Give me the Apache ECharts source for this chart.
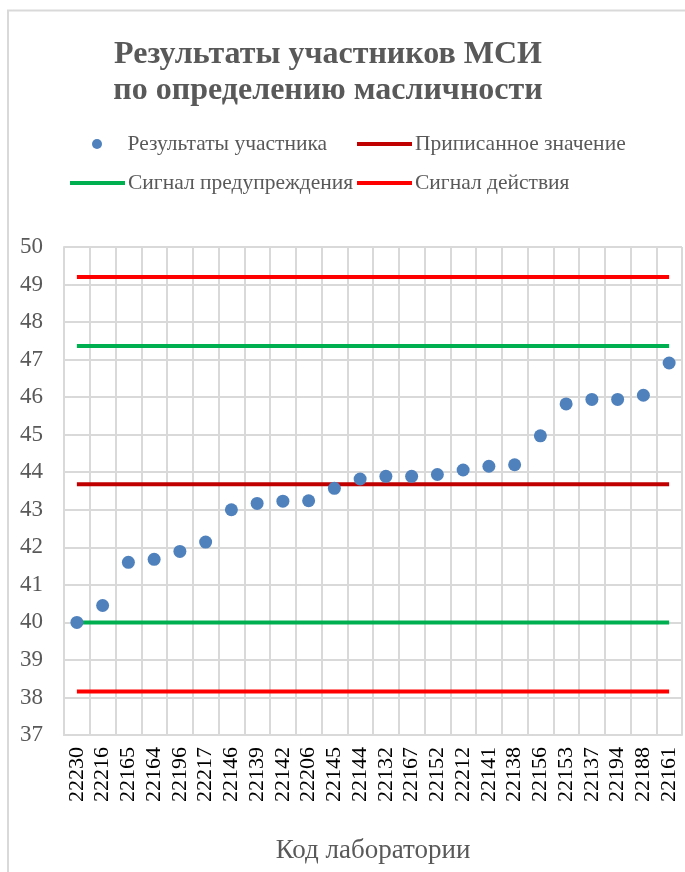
<!DOCTYPE html>
<html>
<head>
<meta charset="utf-8">
<script src="https://cdn.jsdelivr.net/npm/echarts@6/dist/echarts.min.js"></script>
<style>html,body{margin:0;padding:0;background:#fff}#c{width:685px;height:872px}</style>
</head>
<body>
<div id="c"></div>
<script>
const labs = ['22230','22216','22165','22164','22196','22217','22146','22139','22142','22206','22145','22144','22132','22167','22152','22212','22141','22138','22156','22153','22137','22194','22188','22161'];
const results = [40.0,40.45,41.6,41.68,41.89,42.14,43.0,43.17,43.23,43.24,43.57,43.82,43.89,43.89,43.94,44.06,44.16,44.2,44.97,45.82,45.94,45.94,46.05,46.91];
const assignedValue = 43.68;
const warningLow = 40.0;
const warningHigh = 47.36;
const actionLow = 38.16;
const actionHigh = 49.2;
const yTicks = {min: 37, max: 50, step: 1};

const FONT = 'Liberation Serif';
const GREY = '#595959';
const chart = echarts.init(document.getElementById('c'), null, {renderer: 'canvas'});
const flat = v => labs.map(() => v);
const lineSeries = (name, color, v) => ({
  name, type: 'line', data: flat(v), symbol: 'none', showSymbol: false,
  lineStyle: {color, width: 4}, itemStyle: {color}, z: 2, silent: true
});
const legendText = {fontFamily: FONT, fontSize: 21.5, color: GREY, lineHeight: 22, padding: [0,0,0,-2]};
const mkLegend = (left, top, name, icon, h) => ({
  left, top, data: [{name, icon}], itemWidth: 55, itemHeight: h, itemGap: 0, padding: 0,
  textStyle: legendText
});
chart.setOption({
  animation: false,
  title: {
    text: 'Результаты участников МСИ\nпо определению масличности',
    left: 323, top: 32, textAlign: 'center',
    textStyle: {fontFamily: FONT, fontWeight: 'bold', fontSize: 32, color: GREY, lineHeight: 36}
  },
  graphic: [{type: 'rect', shape: {x: 8, y: 10.5, width: 700, height: 900},
    style: {fill: 'none', stroke: '#d9d9d9', lineWidth: 2}, silent: true}],
  legend: [
    mkLegend(92, 133, 'Результаты участника', 'circle', 10),
    mkLegend(357, 133, 'Приписанное значение', 'rect', 4),
    mkLegend(70, 172, 'Сигнал предупреждения', 'rect', 4),
    mkLegend(357, 172, 'Сигнал действия', 'rect', 4)
  ],
  grid: {left: 64, right: 3, top: 247, bottom: 137},
  xAxis: {
    type: 'category', data: labs, boundaryGap: true,
    name: 'Код лаборатории', nameLocation: 'middle', nameGap: 102,
    nameTextStyle: {fontFamily: FONT, fontSize: 27, color: GREY},
    axisLine: {lineStyle: {color: '#d9d9d9', width: 2}},
    axisTick: {show: false},
    axisLabel: {rotate: 90, fontFamily: FONT, fontSize: 22, color: '#000', margin: 12, interval: 0},
    splitLine: {show: true, interval: 0, lineStyle: {color: '#d9d9d9', width: 2}}
  },
  yAxis: {
    type: 'value', min: yTicks.min, max: yTicks.max, interval: yTicks.step,
    axisLine: {show: true, lineStyle: {color: '#d9d9d9', width: 2}},
    axisTick: {show: false},
    axisLabel: {fontFamily: FONT, fontSize: 23, color: GREY, margin: 21},
    splitLine: {show: true, lineStyle: {color: '#d9d9d9', width: 2}}
  },
  series: [
    {name: 'Результаты участника', type: 'scatter', data: results, symbol: 'circle', symbolSize: 13,
     itemStyle: {color: '#4f81bd', opacity: 1}, z: 3},
    lineSeries('Приписанное значение', '#c00000', assignedValue),
    lineSeries('Сигнал предупреждения', '#00b050', warningHigh),
    lineSeries('Сигнал предупреждения', '#00b050', warningLow),
    lineSeries('Сигнал действия', '#ff0000', actionHigh),
    lineSeries('Сигнал действия', '#ff0000', actionLow)
  ]
});
</script>
</body>
</html>
